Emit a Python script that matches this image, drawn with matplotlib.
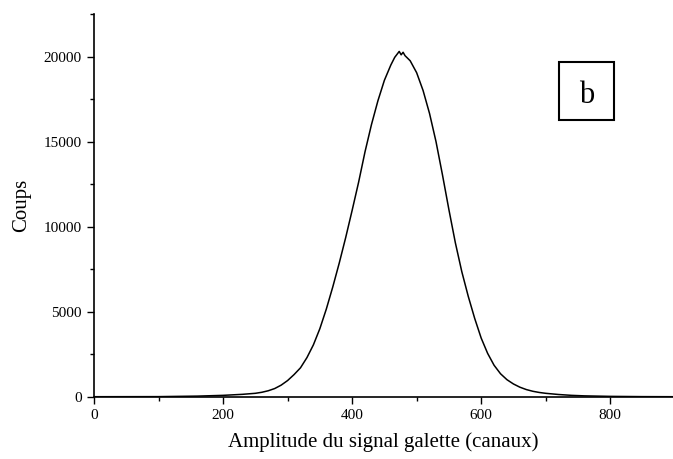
import numpy as np
import matplotlib
matplotlib.use("Agg")
import matplotlib.pyplot as plt
from matplotlib.ticker import MultipleLocator
from matplotlib.patches import Rectangle

# channel positions and counts
canaux = [0, 100, 160, 200, 230, 250, 260, 270, 280, 290, 300, 310, 320, 330,
          340, 350, 360, 370, 380, 390, 400, 410, 420, 430, 440, 450, 460,
          466, 470, 473, 476, 479, 482, 486, 490, 500, 510, 520, 530, 540,
          550, 560, 570, 580, 590, 600, 610, 620, 630, 640, 650, 660, 670,
          680, 690, 700, 720, 740, 760, 800, 850, 897]
coups = [0, 5, 35, 80, 140, 200, 260, 350, 480, 680, 950, 1300, 1700, 2300,
         3050, 4000, 5150, 6450, 7850, 9350, 10950, 12600, 14400, 16000,
         17400, 18600, 19500, 19950, 20150, 20300, 20100, 20250, 20050, 19900,
         19750, 19050, 18000, 16650, 15000, 13050, 11000, 9050, 7350, 5900,
         4600, 3450, 2550, 1850, 1350, 1000, 750, 560, 420, 320, 250, 200,
         130, 80, 50, 20, 5, 0]

x_ticks = [0, 200, 400, 600, 800]
y_ticks = [0, 5000, 10000, 15000, 20000]

plt.rcParams['font.family'] = ['Liberation Serif', 'DejaVu Serif']

fig = plt.figure(figsize=(6.73, 4.59), dpi=100)
ax = fig.add_axes([0.1397, 0.1357, 0.86, 0.8338])

ax.plot(canaux, coups, color='black', linewidth=1.1)

ax.set_xlim(0, 897)
ax.set_ylim(0, 22500)
ax.set_xticks(x_ticks)
ax.set_yticks(y_ticks)
ax.xaxis.set_minor_locator(MultipleLocator(100))
ax.yaxis.set_minor_locator(MultipleLocator(2500))

ax.spines['top'].set_visible(False)
ax.spines['right'].set_visible(False)
ax.spines['left'].set_linewidth(1.2)
ax.spines['bottom'].set_linewidth(1.2)

ax.tick_params(which='major', direction='out', length=5, width=1.0,
               labelsize=11, pad=4)
ax.tick_params(which='minor', direction='out', length=3, width=1.0)

ax.set_xlabel('Amplitude du signal galette (canaux)', fontsize=15, labelpad=7)
ax.set_ylabel('Coups', fontsize=15, labelpad=9)

# panel label "b" in a square frame
ax.add_patch(Rectangle((0.8035, 0.723), 0.095, 0.1508, transform=ax.transAxes,
                       facecolor='white', edgecolor='black', linewidth=1.5))
ax.text(0.851, 0.7667, 'b', transform=ax.transAxes, fontsize=22,
        ha='center', va='baseline')

fig.savefig('out.png', dpi=100)
